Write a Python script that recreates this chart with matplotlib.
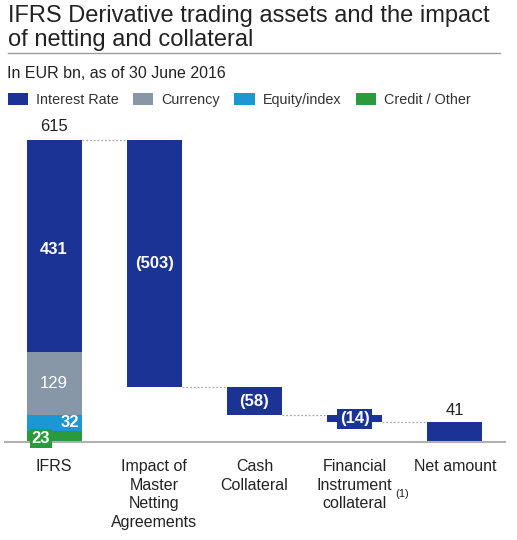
import numpy as np
import matplotlib.pyplot as plt
from matplotlib.lines import Line2D

plt.rcParams['font.family'] = ['Liberation Sans', 'DejaVu Sans']

categories = ["IFRS", "Impact of\nMaster\nNetting\nAgreements", "Cash\nCollateral",
              "Financial\nInstrument\ncollateral", "Net amount"]
series_names = ["Interest Rate", "Currency", "Equity/index", "Credit / Other"]
ifrs_parts = [431, 129, 32, 23]          # same order as series_names
deltas = [-503, -58, -14]                 # netting, cash, financial instrument
net_amount = 41
total = sum(ifrs_parts)

colors = ["#1b3394", "#8797a8", "#1b97d4", "#2a9a3c"]
dark = colors[0]
W = 0.55

fig = plt.figure(figsize=(5.17, 5.40), dpi=100)
ax = fig.add_axes([5 / 517, 98 / 540, 500 / 517, 302 / 540])
ax.set_xlim(-0.49, 4.5)
ax.set_ylim(0, total)

# stacked IFRS bar (bottom up: credit, equity, currency, interest)
bottom = 0
handles = {}
for name, val, c in reversed(list(zip(series_names, ifrs_parts, colors))):
    handles[name] = ax.bar(0, val, W, bottom=bottom, color=c, zorder=2)
    bottom += val

# waterfall steps
level = total
tops, bots = [], []
for i, d in enumerate(deltas, start=1):
    ax.bar(i, -d, W, bottom=level + d, color=dark, zorder=2)
    tops.append(level)
    bots.append(level + d)
    level += d
ax.bar(4, net_amount, W, color=dark, zorder=2)

# dotted connectors
conn_levels = [total] + bots[:-1] + [net_amount]
for i, lv in enumerate(conn_levels):
    ax.plot([i + W / 2, i + 1 - W / 2], [lv, lv], ls=(0, (1.5, 1.5)), color="#a8a8a8",
            lw=0.9, zorder=1, clip_on=False)

# labels
ax.text(0, total + 12, f"{total}", ha="center", va="bottom", fontsize=12, color="#222222")
ax.text(0, 23 + 32 + 129 + 431 / 2 - 8, "431", ha="center", va="center", color="white",
        fontsize=12, fontweight="bold")
ax.text(0, 23 + 32 + 129 / 2, "129", ha="center", va="center", color="white",
        fontsize=12)
ax.text(0.16, 23 + 17, "32", ha="center", va="center", color="white",
        fontsize=12, fontweight="bold")
ax.text(-0.13, 8, "23", ha="center", va="center", color="white", fontsize=12,
        fontweight="bold", clip_on=False,
        bbox=dict(boxstyle="square,pad=0.12", fc=colors[3], ec="none"))
for i, d in enumerate(deltas, start=1):
    mid = (tops[i - 1] + bots[i - 1]) / 2
    kw = {}
    if i == 3:
        kw["bbox"] = dict(boxstyle="square,pad=0.15", fc=dark, ec="none")
    ax.text(i, mid, f"({-d})", ha="center", va="center", color="white",
            fontsize=12, fontweight="bold", **kw)
ax.text(4, net_amount + 8, f"{net_amount}", ha="center", va="bottom", fontsize=12,
        color="#222222")

# axes styling
for s in ["top", "right", "left"]:
    ax.spines[s].set_visible(False)
ax.spines["bottom"].set_color("#b0b0b0")
ax.spines["bottom"].set_linewidth(1.5)
ax.set_yticks([])
ax.set_xticks(range(len(categories)))
ax.set_xticklabels(categories, fontsize=11.5, color="#222222", linespacing=1.32)
ax.tick_params(axis="x", length=0, pad=12)
ax.text(3.47, -0.172, "(1)", transform=ax.get_xaxis_transform(), fontsize=8,
        color="#222222", ha="center", va="center")

# title block
fig.text(8 / 517, 1 - 5 / 540, "IFRS Derivative trading assets and the impact\nof netting and collateral",
         ha="left", va="top", fontsize=17, color="#222222", linespacing=1.1)
fig.add_artist(Line2D([8 / 517, 500 / 517], [1 - 53 / 540] * 2, color="#9a9a9a", lw=1))
fig.text(7 / 517, 1 - 73 / 540, "In EUR bn, as of 30 June 2016", ha="left", va="center",
         fontsize=11.5, color="#222222")
fig.legend([handles[n] for n in series_names], series_names, loc="center left",
           bbox_to_anchor=(5 / 517, 1 - 100 / 540), ncol=4, frameon=False, fontsize=10.4,
           handlelength=1.4, handleheight=0.9, handletextpad=0.55, columnspacing=1.0,
           borderaxespad=0, borderpad=0.2, labelcolor="#333333")

fig.savefig("out.png", dpi=100)
